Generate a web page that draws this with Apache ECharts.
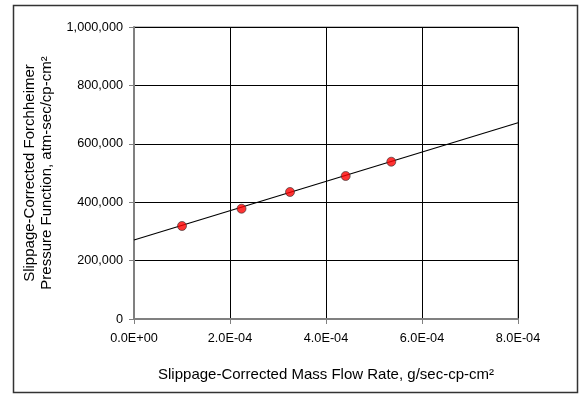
<!DOCTYPE html>
<html><head><meta charset="utf-8">
<script src="https://cdn.jsdelivr.net/npm/echarts@6/dist/echarts.min.js"></script>
<style>html,body{margin:0;padding:0;background:#fff}#c{width:581px;height:394px}</style>
</head><body><div id="c"></div>
<script>
// Data
const massFlowRate = [1.0e-4, 2.24e-4, 3.25e-4, 4.41e-4, 5.36e-4];
const pressureFunction = [318500, 377700, 435000, 489700, 538700];
const trendX = [0, 8.0e-4];
const trendY = [270500, 672000];
const xTicks = [0, 2e-4, 4e-4, 6e-4, 8e-4];
const yTicks = [0, 200000, 400000, 600000, 800000, 1000000];

function fmtExp(v){
  if (Math.abs(v) < 1e-12) return '0.0E+00';
  let s = v.toExponential(1).toUpperCase();
  let m = s.match(/^(-?[\d.]+)E([+-])(\d+)$/);
  let e = m[3].length < 2 ? '0' + m[3] : m[3];
  return m[1] + 'E' + m[2] + e;
}
function fmtComma(v){ return Math.round(v).toString().replace(/\B(?=(\d{3})+(?!\d))/g, ','); }

const font = 'Liberation Sans, Arial, sans-serif';
const chart = echarts.init(document.getElementById('c'));
chart.setOption({
  animation: false,
  graphic: [{
    type: 'rect', shape: {x: 13.5, y: 5.5, width: 564, height: 387},
    style: {fill: 'none', stroke: '#333', lineWidth: 1.5}, z: -1
  }],
  grid: {left: 134, top: 27, right: 63, bottom: 75, show: true, borderColor: '#808080', borderWidth: 1},
  xAxis: {
    type: 'value', min: xTicks[0], max: xTicks[xTicks.length-1], interval: 2e-4,
    name: 'Slippage-Corrected Mass Flow Rate, g/sec-cp-cm²',
    nameLocation: 'middle', nameGap: 48,
    nameTextStyle: {fontFamily: font, fontSize: 15, color: '#000'},
    axisLine: {lineStyle: {color: '#808080', width: 2}},
    axisTick: {show: true, length: 5, lineStyle: {color: '#808080', width: 1}},
    axisLabel: {formatter: fmtExp, fontFamily: font, fontSize: 12.7, color: '#000', margin: 13},
    splitLine: {show: true, lineStyle: {color: '#000', width: 1}}
  },
  yAxis: {
    type: 'value', min: yTicks[0], max: yTicks[yTicks.length-1], interval: 200000,
    name: 'Slippage-Corrected Forchheimer\nPressure Function, atm-sec/cp-cm²',
    nameLocation: 'middle', nameGap: 70, nameRotate: 90,
    nameTextStyle: {fontFamily: font, fontSize: 15, color: '#000', lineHeight: 17},
    axisLine: {lineStyle: {color: '#808080', width: 2}},
    axisTick: {show: true, length: 5, lineStyle: {color: '#808080', width: 1}},
    axisLabel: {formatter: fmtComma, fontFamily: font, fontSize: 12.7, color: '#000', margin: 11},
    splitLine: {show: true, lineStyle: {color: '#000', width: 1}}
  },
  series: [{
    type: 'line', data: trendX.map((x, i) => [x, trendY[i]]),
    showSymbol: false, symbol: 'none', lineStyle: {color: '#000', width: 1.2}, z: 2
  }, {
    type: 'scatter', data: massFlowRate.map((x, i) => [x, pressureFunction[i]]),
    symbol: 'circle', symbolSize: 9,
    itemStyle: {color: '#FF0000', borderColor: '#333', borderWidth: 0.8}, z: 3
  }]
});
</script></body></html>
